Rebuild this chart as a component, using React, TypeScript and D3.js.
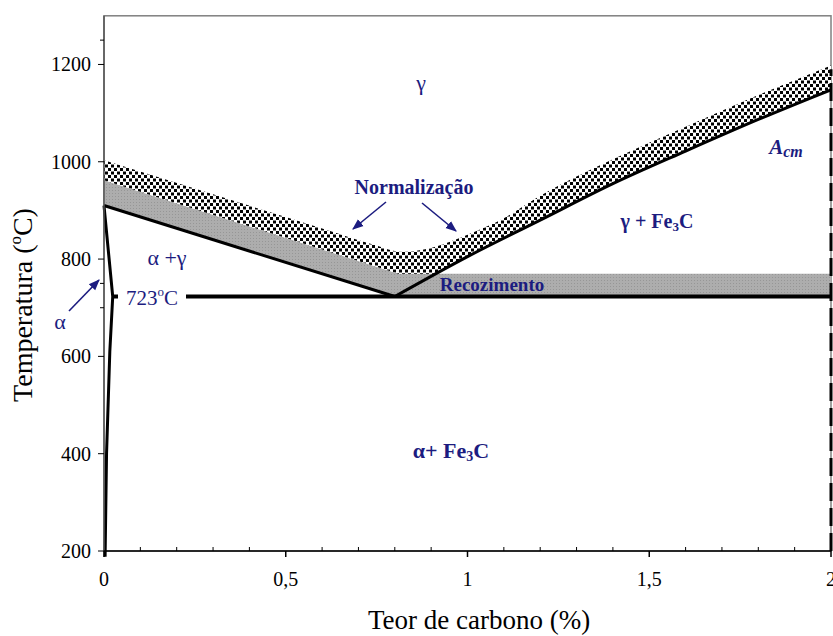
import * as d3 from "d3";

// Fe-C diagram (steel side) with annealing / normalizing bands
const xTicks = [0, 0.5, 1, 1.5, 2];
const xTickLabels = ["0", "0,5", "1", "1,5", "2"];
const yTicks = [200, 400, 600, 800, 1000, 1200];
const yMinorTicks = [700, 750, 1250];

// phase boundaries [C %, temp °C]
const a3Line: [number, number][] = [[0, 910], [0.8, 723]];
const acmLine: [number, number][] = [[0.8, 723], [1.0, 805], [1.2, 880], [1.4, 955], [1.6, 1022], [1.8, 1087], [2.0, 1148]];
const alphaLine: [number, number][] = [[0, 910], [0.024, 723], [0.016, 610], [0.007, 400], [0.003, 188]];
const eutectoid = { x0: 0.022, x1: 2, t: 723 };

// heat-treatment bands
const annealTop: [number, number][] = [[0, 962], [0.81, 770], [2, 770]];
const normTop: [number, number][] = [[0, 1003], [0.3, 933], [0.6, 863], [0.74, 830], [0.82, 815], [0.9, 823], [1.0, 850], [1.1, 884], [1.2, 930], [1.4, 1005], [1.6, 1072], [1.8, 1137], [2, 1198]];
const normBottom: [number, number][] = [[0, 962], [0.81, 770], [0.915, 770], [1.0, 805], [1.2, 880], [1.4, 955], [1.6, 1022], [1.8, 1087], [2, 1148]];

const W = 833, H = 636;
const navy = "#1c1c80";
const serif = "'Liberation Serif', 'DejaVu Serif', serif";

export default function App() {
  const x = d3.scaleLinear().domain([0, 2]).range([104, 831]);
  const y = d3.scaleLinear().domain([200, 1300]).range([551, 15.8]);

  const lin = d3.line<[number, number]>().x(d => x(d[0])).y(d => y(d[1]));
  const smooth = d3.line<[number, number]>().x(d => x(d[0])).y(d => y(d[1])).curve(d3.curveMonotoneX);

  const reverseAsL = (pts: [number, number][]) => (lin(pts.slice().reverse()) || "").replace(/^M/, "L");

  const annealPath = lin(a3Line)! + "L" + x(2) + "," + y(723) + reverseAsL(annealTop) + "Z";
  const normPath = smooth(normTop)! + reverseAsL(normBottom) + "Z";

  const minorX = d3.range(0, 2.0001, 0.1).filter(v => Math.abs(v * 2 - Math.round(v * 2)) > 1e-6);

  return (
    <svg width={W} height={H} style={{ position: "absolute", left: 0, top: 0, background: "#fff" }} fontFamily={serif}>
      <defs>
        <pattern id="dots" width="6" height="7" patternUnits="userSpaceOnUse">
          <rect width="6" height="7" fill="#fff" />
          <rect x="0" y="0" width="3" height="3" fill="#000" />
          <rect x="3" y="3.5" width="3" height="3" fill="#000" />
        </pattern>
        <pattern id="grey" width="3" height="3" patternUnits="userSpaceOnUse">
          <rect width="3" height="3" fill="#adadad" />
          <rect x="1" y="1" width="1" height="1" fill="#969696" />
        </pattern>
        <marker id="arr" viewBox="0 0 10 10" refX="9" refY="5" markerWidth="7" markerHeight="7" orient="auto">
          <path d="M0,1 L10,5 L0,9 Z" fill={navy} />
        </marker>
      </defs>

      {/* plot frame */}
      <rect x={x(0)} y={y(1300)} width={x(2) - x(0)} height={y(200) - y(1300)} fill="none" stroke="#808080" strokeWidth={1.5} />

      {/* bands */}
      <path d={annealPath} fill="url(#grey)" />
      <path d={normPath} fill="url(#dots)" />

      {/* phase lines */}
      <path d={lin(a3Line)!} fill="none" stroke="#000" strokeWidth={3} />
      <path d={smooth(acmLine)!} fill="none" stroke="#000" strokeWidth={3} />
      <path d={lin(alphaLine)!} fill="none" stroke="#000" strokeWidth={3} />
      <line x1={x(eutectoid.x0)} x2={x(eutectoid.x1)} y1={y(eutectoid.t)} y2={y(eutectoid.t)} stroke="#000" strokeWidth={4} />
      <line x1={x(2)} x2={x(2)} y1={y(200)} y2={y(1190)} stroke="#000" strokeWidth={3} strokeDasharray="18,7" />

      {/* axes */}
      <line x1={x(0)} x2={x(0)} y1={y(200)} y2={y(1300)} stroke="#555" strokeWidth={1.5} />
      <line x1={x(0)} x2={x(2)} y1={y(200)} y2={y(200)} stroke="#000" strokeWidth={1.5} />
      {yTicks.map(t => (
        <g key={t}>
          <line x1={x(0) - 6} x2={x(0)} y1={y(t)} y2={y(t)} stroke="#000" />
          <text x={x(0) - 13} y={y(t)} dy="0.35em" textAnchor="end" fontSize={20}>{t}</text>
        </g>
      ))}
      {yMinorTicks.map(t => (
        <line key={t} x1={x(0) - 4} x2={x(0)} y1={y(t)} y2={y(t)} stroke="#000" />
      ))}
      {xTicks.map((t, i) => (
        <g key={t}>
          <line x1={x(t)} x2={x(t)} y1={y(200)} y2={y(200) + 6} stroke="#000" strokeWidth={1.5} />
          <text x={x(t)} y={y(200) + 35} textAnchor="middle" fontSize={20}>{xTickLabels[i]}</text>
        </g>
      ))}
      {minorX.map(t => (
        <line key={t} x1={x(t)} x2={x(t)} y1={y(200)} y2={y(200) - 4} stroke="#000" />
      ))}

      {/* axis titles */}
      <text x={479} y={629} textAnchor="middle" fontSize={27}>Teor de carbono (%)</text>
      <text transform={`translate(32,305) rotate(-90)`} textAnchor="middle" fontSize={28}>
        Temperatura (<tspan fontSize={17} dy={-11}>o</tspan><tspan dy={11}>C)</tspan>
      </text>

      {/* region labels */}
      <g fill={navy}>
        <text x={421} y={90} textAnchor="middle" fontSize={22}>γ</text>
        <text x={414} y={194} textAnchor="middle" fontSize={20} fontWeight="bold">Normalização</text>
        <text x={786} y={154} textAnchor="middle" fontSize={21} fontWeight="bold" fontStyle="italic">
          A<tspan fontSize={16} dy={3}>cm</tspan>
        </text>
        <text x={657} y={228} textAnchor="middle" fontSize={20} fontWeight="bold">
          γ + Fe<tspan fontSize={13} dy={3}>3</tspan><tspan dy={-3}>C</tspan>
        </text>
        <text x={167} y={265} textAnchor="middle" fontSize={22}>α +γ</text>
        <rect x={118} y={y(723) - 12} width={68} height={24} fill="#fff" />
        <text x={152} y={305} textAnchor="middle" fontSize={21}>
          723<tspan fontSize={13} dy={-9}>o</tspan><tspan dy={9}>C</tspan>
        </text>
        <text x={60} y={329} textAnchor="middle" fontSize={22}>α</text>
        <text x={492} y={291} textAnchor="middle" fontSize={19} fontWeight="bold">Recozimento</text>
        <text x={451} y={458} textAnchor="middle" fontSize={22} fontWeight="bold">
          α+ Fe<tspan fontSize={14} dy={3}>3</tspan><tspan dy={-3}>C</tspan>
        </text>
      </g>

      {/* arrows */}
      <g stroke={navy} strokeWidth={1.6} markerEnd="url(#arr)">
        <line x1={386} y1={202} x2={353} y2={229} />
        <line x1={422} y1={203} x2={456} y2={231} />
        <line x1={69} y1={311} x2={99} y2={280} />
      </g>
    </svg>
  );
}
